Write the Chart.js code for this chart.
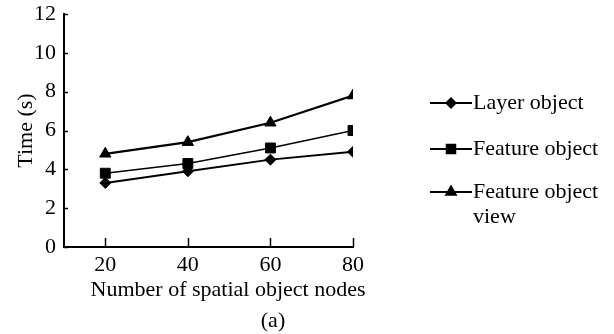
<!DOCTYPE html>
<html>
<head>
<meta charset="utf-8">
<script src="https://cdn.jsdelivr.net/npm/chart.js@4/dist/chart.umd.min.js"></script>
<style>
  html, body { margin: 0; padding: 0; background: #fff; }
  #wrap { width: 614px; height: 334px; }
</style>
</head>
<body>
<div id="wrap"><canvas id="chart" width="614" height="334"></canvas></div>
<script>
// data
const nodes = [20, 40, 60, 80];
const layerObject = [3.3, 3.9, 4.5, 4.9];
const featureObject = [3.8, 4.3, 5.1, 6.0];
const featureObjectView = [4.8, 5.4, 6.4, 7.8];
const yTicks = [0, 2, 4, 6, 8, 10, 12];
const seriesNames = ["Layer object", "Feature object", ["Feature object", "view"]];

const ink = "#000";
const serif = "'Liberation Serif', 'Times New Roman', serif";
const fontSize = 22;

function pairs(ys) {
    return ys.map(function(y, i) { return { x: nodes[i], y: y }; });
}

// inward ticks + x title + caption + legend
const extrasPlugin = {
    id: "extras",
    afterDraw: function(chart) {
        const ctx = chart.ctx;
        const area = chart.chartArea;
        const xs = chart.scales.x;
        const ys = chart.scales.y;
        ctx.save();
        ctx.strokeStyle = ink;
        ctx.lineWidth = 1.5;
        nodes.forEach(function(v) {
            const px = Math.round(xs.getPixelForValue(v)) + 0.5;
            ctx.beginPath();
            ctx.moveTo(px, area.bottom);
            ctx.lineTo(px, area.bottom - 9);
            ctx.stroke();
        });
        yTicks.forEach(function(v) {
            const py = Math.round(ys.getPixelForValue(v)) + 0.5;
            ctx.beginPath();
            ctx.moveTo(area.left, py);
            ctx.lineTo(area.left + 4, py);
            ctx.stroke();
        });

        ctx.fillStyle = ink;
        ctx.font = fontSize + "px " + serif;
        ctx.textAlign = "center";
        ctx.textBaseline = "middle";
        ctx.fillText("Number of spatial object nodes", area.left + 164, area.bottom + 43);
        ctx.fillText("(a)", area.left + 209, area.bottom + 74);

        // legend
        const rows = [103, 149, 192];
        const x0 = area.right + 77, x1 = area.right + 119;
        chart.data.datasets.forEach(function(ds, i) {
            const y = rows[i];
            ctx.strokeStyle = ink;
            ctx.lineWidth = 2;
            ctx.beginPath();
            ctx.moveTo(x0, y);
            ctx.lineTo(x1, y);
            ctx.stroke();
            ctx.fillStyle = ink;
            Chart.helpers.drawPoint(ctx, {
                pointStyle: ds.pointStyle,
                radius: ds.legendRadius,
                rotation: 0,
                borderWidth: 1
            }, (x0 + x1) / 2, y);
            ctx.fillStyle = ink;
            ctx.textAlign = "left";
            const label = seriesNames[i];
            const lines = Array.isArray(label) ? label : [label];
            lines.forEach(function(t, j) {
                ctx.fillText(t, x1 + 1, y + j * 25);
            });
        });
        ctx.restore();
    }
};

function series(label, ys, style, radius, legendRadius, width) {
    return {
        label: label,
        data: pairs(ys),
        borderColor: ink,
        backgroundColor: ink,
        borderWidth: width,
        pointStyle: style,
        pointRadius: radius,
        pointBackgroundColor: ink,
        pointBorderColor: ink,
        pointBorderWidth: 1,
        legendRadius: legendRadius,
        tension: 0
    };
}

new Chart(document.getElementById("chart"), {
    type: "line",
    data: {
        datasets: [
            series("Layer object", layerObject, "rectRot", 5.5, 4.5, 2),
            series("Feature object", featureObject, "rect", 7, 6, 1.6),
            series("Feature object view", featureObjectView, "triangle", 6.5, 5.5, 2.2)
        ]
    },
    options: {
        responsive: false,
        animation: false,
        devicePixelRatio: 1,
        layout: { padding: { top: 14, right: 261, bottom: 0, left: 0 } },
        plugins: {
            legend: { display: false },
            tooltip: { enabled: false }
        },
        scales: {
            x: {
                type: "linear",
                min: 10,
                max: 80,
                afterBuildTicks: function(scale) {
                    scale.ticks = nodes.map(function(v) { return { value: v }; });
                },
                afterFit: function(scale) {
                    scale.height = 87;
                    scale.paddingLeft = 0;
                    scale.paddingRight = 0;
                },
                grid: { display: true, drawOnChartArea: false, drawTicks: false },
                border: { display: true, color: ink, width: 2 },
                ticks: {
                    color: ink,
                    padding: 5,
                    maxRotation: 0,
                    font: { family: serif, size: fontSize }
                }
            },
            y: {
                min: 0,
                max: 12,
                afterBuildTicks: function(scale) {
                    scale.ticks = yTicks.map(function(v) { return { value: v }; });
                },
                afterFit: function(scale) {
                    scale.width = 64;
                    scale.paddingTop = 0;
                    scale.paddingBottom = 0;
                },
                grid: { display: true, drawOnChartArea: false, drawTicks: false },
                border: { display: true, color: ink, width: 2 },
                title: {
                    display: true,
                    text: "Time (s)",
                    color: ink,
                    padding: { top: 13, bottom: 0 },
                    font: { family: serif, size: fontSize }
                },
                ticks: {
                    color: ink,
                    padding: 8,
                    font: { family: serif, size: fontSize }
                }
            }
        }
    },
    plugins: [extrasPlugin]
});
</script>
</body>
</html>
